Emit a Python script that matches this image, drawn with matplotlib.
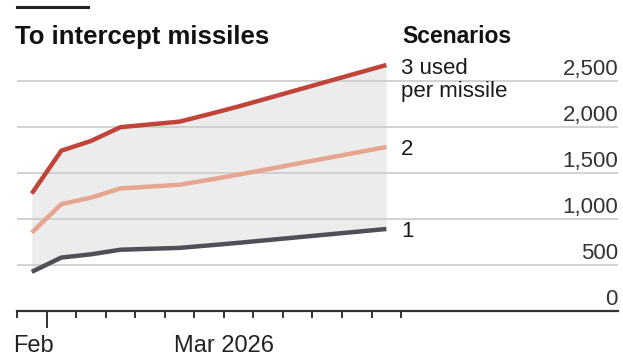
import matplotlib.pyplot as plt
from matplotlib.lines import Line2D
from matplotlib.transforms import ScaledTranslation
import numpy as np

plt.rcParams['font.family'] = ['Liberation Sans', 'DejaVu Sans']

# interceptors needed, one value per period, for 1, 2 and 3 interceptors per missile
periods = np.arange(13) + 0.5
one_used = [425, 580, 615, 665, 675, 685, 712, 740, 770, 800, 830, 860, 890]
two_used = [850, 1160, 1230, 1330, 1350, 1370, 1424, 1480, 1540, 1600, 1660, 1720, 1780]
three_used = [1275, 1740, 1845, 1995, 2025, 2055, 2136, 2220, 2310, 2400, 2490, 2580, 2670]

scenario_names = ['1', '2', '3 used\nper missile']
yticks = [0, 500, 1000, 1500, 2000, 2500]
ytick_labels = ['0', '500', '1,000', '1,500', '2,000', '2,500']
xlabel_pos = [0.55, 7]
xlabel_text = ['Feb', 'Mar 2026']

RED = '#c0443a'
SALMON = '#e6a590'
DARK = '#4f4f57'

W, H = 623, 360
fig = plt.figure(figsize=(W / 100, H / 100), dpi=100)
ax = fig.add_axes([17 / W, (H - 311) / H, 601 / W, 258 / H])

ax.fill_between(periods, one_used, three_used, color='#ececec', lw=0, zorder=1)
ax.plot(periods, one_used, color=DARK, lw=3.2, solid_capstyle='butt', zorder=3)
ax.plot(periods, two_used, color=SALMON, lw=3.2, solid_capstyle='butt', zorder=3)
ax.plot(periods, three_used, color=RED, lw=3.2, solid_capstyle='butt', zorder=3)

# line-end labels; the two-line one hangs from the top of its first line
ends = [one_used[-1], two_used[-1], three_used[-1]]
for name, val in zip(scenario_names, ends):
    if '\n' in name:
        ax.annotate(name, (13, val), xytext=(0, 5), textcoords='offset points',
                    fontsize=16, color='#1a1a1a', ha='left', va='top',
                    linespacing=1.12, annotation_clip=False)
    else:
        ax.text(13, val, name, fontsize=16, color='#1a1a1a', ha='left',
                va='center_baseline', clip_on=False)

ax.set_xlim(0, 20.34)
ax.set_ylim(0, 2800)

# y axis: labels on the right, sitting on the gridlines
ax.set_yticks(yticks)
ax.set_yticklabels(ytick_labels)
ax.yaxis.tick_right()
ax.tick_params(axis='y', length=0, pad=0, labelsize=16, labelcolor='#333333')
lift = ScaledTranslation(0, 4.3 / 72, fig.dpi_scale_trans)
for lab in ax.get_yticklabels():
    lab.set_ha('right')
    lab.set_va('baseline')
    lab.set_transform(lab.get_transform() + lift)
ax.grid(axis='y', color='#cbcbcb', lw=1.2, zorder=2)
ax.set_axisbelow(False)

# x axis: short ticks each period, a longer one at the start of Feb
ax.xaxis.remove_overlapping_locs = False
ax.set_xticks(range(14))
ax.tick_params(axis='x', which='major', length=5, width=1.4, color='#333333',
               labelbottom=False)
ax.xaxis.get_major_ticks()[1].tick1line.set_markersize(12)
ax.set_xticks(xlabel_pos, minor=True)
ax.set_xticklabels(xlabel_text, minor=True)
ax.tick_params(axis='x', which='minor', length=0, pad=17, labelsize=17,
               labelcolor='#222222')

for side in ['top', 'left', 'right']:
    ax.spines[side].set_visible(False)
ax.spines['bottom'].set_color('#333333')
ax.spines['bottom'].set_linewidth(1.6)
ax.spines['bottom'].set_zorder(4)

fig.add_artist(Line2D([17 / W, 88 / W], [1 - 7 / H, 1 - 7 / H], lw=2.2,
                      color='#222222', transform=fig.transFigure))
fig.text(15 / W, 1 - 44 / H, 'To intercept missiles', fontsize=18.5,
         weight='bold', color='#111111', ha='left', va='baseline')
fig.text(402 / W, 1 - 43 / H, 'Scenarios', fontsize=16.5, weight='bold',
         color='#111111', ha='left', va='baseline')

fig.savefig('out.png', dpi=100)
